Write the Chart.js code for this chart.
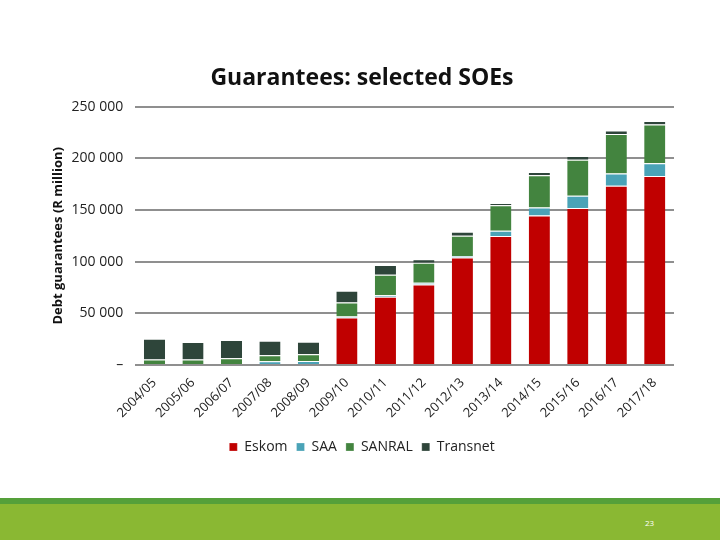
<!DOCTYPE html>
<html lang="en">
<head>
  <meta charset="UTF-8" />
  <title>Guarantees: selected SOEs</title>
  <script src="https://cdn.jsdelivr.net/npm/chart.js"></script>
  <style>
    body {
      margin: 0;
      width: 720px;
      height: 540px;
      overflow: hidden;
      background: #fff;
      font-family: "Open Sans", sans-serif;
      position: relative;
    }
    #wrap {
      position: absolute;
      left: 0;
      top: 0;
      width: 720px;
      height: 498px;
    }
    .band {
      position: absolute;
      left: 0;
      top: 498px;
      width: 720px;
      height: 42px;
      background: #8ab833;
      border-top: 6px solid #55a03a;
      box-sizing: border-box;
    }
    .page {
      position: absolute;
      left: 645px;
      top: 517px;
      font-size: 8px;
      color: #fff;
    }
  </style>
</head>
<body>

<div id="wrap"><canvas id="soeChart" width="720" height="498"></canvas></div>
<div class="band"></div>
<div class="page">23</div>

<script>
  const years = ["2004/05", "2005/06", "2006/07", "2007/08", "2008/09", "2009/10", "2010/11",
                 "2011/12", "2012/13", "2013/14", "2014/15", "2015/16", "2016/17", "2017/18"];

  // R million
  const eskom    = [0, 0, 0, 0, 0, 46000, 66000, 78000, 104000, 124800, 144700, 151900, 173500, 182900];
  const saa      = [0, 0, 0, 3600, 4000, 1000, 1500, 1500, 1500, 5200, 7800, 11800, 11800, 12400];
  const sanral   = [5500, 5500, 6500, 5800, 6500, 13500, 19800, 19500, 19500, 24500, 31000, 34900, 38200, 37500];
  const transnet = [20000, 16800, 17800, 14000, 12000, 11500, 9600, 3300, 3900, 2300, 3300, 3600, 3300, 3300];

  const yTicks = [0, 50000, 100000, 150000, 200000, 250000];

  function seg(label, data, color) {
    return {
      label: label,
      data: data,
      backgroundColor: color,
      borderColor: "#ffffff",
      borderWidth: { top: 1, bottom: 0, left: 0, right: 0 },
      borderSkipped: false,
      barPercentage: 0.55,
      categoryPercentage: 1.0
    };
  }

  const ctx = document.getElementById("soeChart").getContext("2d");

  new Chart(ctx, {
    type: "bar",
    data: {
      labels: years,
      datasets: [
        seg("Eskom", eskom, "#c00000"),
        seg("SAA", saa, "#4aa3b7"),
        seg("SANRAL", sanral, "#43843f"),
        seg("Transnet", transnet, "#2e453a")
      ]
    },
    options: {
      responsive: false,
      animation: false,
      layout: {
        padding: { left: 50, right: 46, top: 65, bottom: 34 }
      },
      scales: {
        x: {
          stacked: true,
          grid: { display: false, drawTicks: false },
          border: { display: false },
          ticks: {
            color: "#222",
            font: { family: "Open Sans", size: 13 },
            minRotation: 45,
            maxRotation: 45,
            padding: 10
          }
        },
        y: {
          stacked: true,
          min: 0,
          max: 250000,
          afterBuildTicks: (axis) => {
            axis.ticks = yTicks.map(v => ({ value: v }));
          },
          grid: { color: "#8f8f8f", lineWidth: 2, drawTicks: false },
          border: { display: false },
          ticks: {
            color: "#222",
            font: { family: "Open Sans", size: 14 },
            padding: 12,
            callback: (v) => v === 0 ? "–" : String(v).replace(/\B(?=(\d{3})+(?!\d))/g, " ")
          },
          title: {
            display: true,
            text: "Debt guarantees (R million)",
            color: "#111",
            font: { family: "Open Sans", size: 13, weight: "bold" },
            padding: { top: 0, bottom: -6 }
          }
        }
      },
      plugins: {
        title: {
          display: true,
          text: "Guarantees: selected SOEs",
          color: "#111",
          font: { family: "Open Sans", size: 23, weight: "bold" },
          padding: { top: 0, bottom: 14 }
        },
        legend: {
          position: "bottom",
          labels: {
            color: "#222",
            font: { family: "Open Sans", size: 14 },
            boxWidth: 8,
            boxHeight: 8,
            padding: 9
          }
        },
        tooltip: { enabled: false }
      }
    }
  });
</script>

</body>
</html>
